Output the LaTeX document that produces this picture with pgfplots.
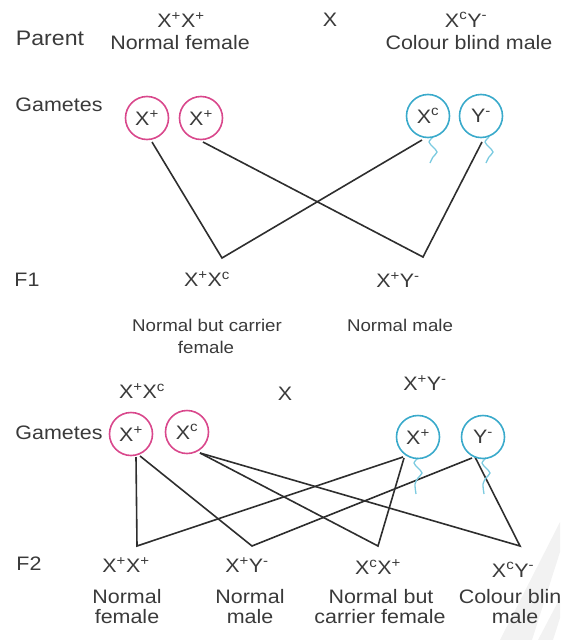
\documentclass[border=0pt]{standalone}
\usepackage{pgfplots}
\pgfplotsset{compat=1.18}
\usepackage{fontspec}
\setmainfont{Liberation Sans}[FakeStretch=1.1]
\definecolor{txt}{HTML}{3A3A3A}
\definecolor{pinkc}{HTML}{D9488C}
\definecolor{bluec}{HTML}{3AAACB}
\definecolor{bluel}{HTML}{7CCBE0}
\definecolor{linec}{HTML}{2E2E2E}
\newcommand\fa{\fontsize{19.5}{22}\selectfont}
\newcommand\fb{\fontsize{17}{20}\selectfont}
\newcommand\su[1]{\textsuperscript{#1}}
\tikzset{L/.style={text=txt, font=\fa, inner sep=0pt}, S/.style={text=txt, font=\fb, inner sep=0pt}}
\begin{document}
\begin{tikzpicture}
\begin{axis}[
  width=560pt, height=640pt, scale only axis,
  xmin=0, xmax=560, ymin=0, ymax=640, y dir=reverse,
  hide axis, clip=false,
]
% watermark bands
\addplot[fill=gray!10, draw=none] coordinates {(560,522) (560,552) (532,640) (500,640) (560,522)};
\addplot[fill=gray!10, draw=none] coordinates {(560,598) (560,618) (553,640) (538,640) (560,598)};
% F1 lines
\addplot[linec, line width=1.6pt] coordinates {(152,142) (222,258) (422,140)};
\addplot[linec, line width=1.6pt] coordinates {(203,142) (423,257) (482,142)};
% F2 lines
\addplot[linec, line width=1.6pt] coordinates {(136,457) (137,546) (403,457)};
\addplot[linec, line width=1.6pt] coordinates {(140,456) (252,546) (472,458)};
\addplot[linec, line width=1.6pt] coordinates {(200,453) (378,546) (404,458)};
\addplot[linec, line width=1.6pt] coordinates {(200,453) (520,546) (475,457)};
% sperm tails
\addplot[bluel, line width=1.3pt, smooth] coordinates {(433,137) (429,142) (433,147) (437,152) (433,157) (430,163)};
\addplot[bluel, line width=1.3pt, smooth] coordinates {(489,137) (485,142) (489,147) (493,152) (489,157) (486,163)};
\addplot[bluel, line width=1.3pt, smooth] coordinates {(418,458) (414,463) (418,468) (422,473) (418,478) (415,484) (416,494)};
\addplot[bluel, line width=1.3pt, smooth] coordinates {(486,458) (482,463) (486,468) (490,473) (486,478) (483,484) (484,494)};
% gamete circles
\addplot[only marks, mark=o, mark size=21.5pt, mark options={draw=pinkc, line width=1.6pt}]
  coordinates {(147,118) (201,118) (131,434) (187,432)};
\addplot[only marks, mark=o, mark size=21.5pt, mark options={draw=bluec, line width=1.6pt}]
  coordinates {(428,116) (481,116) (418,437) (483,437)};
% circle labels
\node[L] at (axis cs:147,118) {X\su{+}};
\node[L] at (axis cs:201,118) {X\su{+}};
\node[L] at (axis cs:428,116) {X\su{c}};
\node[L] at (axis cs:481,116) {Y\su{-}};
\node[L] at (axis cs:131,434) {X\su{+}};
\node[L] at (axis cs:187,432) {X\su{c}};
\node[L] at (axis cs:418,437) {X\su{+}};
\node[L] at (axis cs:483,437) {Y\su{-}};
% top parents
\node[L] at (axis cs:50,38) {\fontsize{21}{24}\selectfont Parent};
\node[L] at (axis cs:181,20) {X\su{+}X\su{+}};
\node[L] at (axis cs:180,43) {Normal female};
\node[L] at (axis cs:330,20) {X};
\node[L] at (axis cs:466,20) {X\su{c}Y\su{-}};
\node[L] at (axis cs:469,43) {Colour blind male};
\node[L] at (axis cs:59,105) {Gametes};
% F1
\node[L] at (axis cs:27,280) {F1};
\node[L] at (axis cs:207,279) {X\su{+}X\su{c}};
\node[L] at (axis cs:398,280) {X\su{+}Y\su{-}};
\node[S] at (axis cs:207,325) {Normal but carrier};
\node[S] at (axis cs:206,347) {female};
\node[S] at (axis cs:400,325) {Normal male};
% F1 cross
\node[L] at (axis cs:142,391) {X\su{+}X\su{c}};
\node[L] at (axis cs:285,394) {X};
\node[L] at (axis cs:425,383) {X\su{+}Y\su{-}};
\node[L] at (axis cs:59,433) {Gametes};
% F2
\node[L] at (axis cs:29,564) {F2};
\node[L] at (axis cs:126,565) {X\su{+}X\su{+}};
\node[L] at (axis cs:127,597) {Normal};
\node[L] at (axis cs:127,617) {female};
\node[L] at (axis cs:247,565) {X\su{+}Y\su{-}};
\node[L] at (axis cs:250,597) {Normal};
\node[L] at (axis cs:250,617) {male};
\node[L] at (axis cs:378,567) {X\su{c}X\su{+}};
\node[L] at (axis cs:381,597) {Normal but};
\node[L] at (axis cs:380,617) {carrier female};
\node[L] at (axis cs:513,570) {X\su{c}Y\su{-}};
\node[L] at (axis cs:516,597) {Colour blind};
\node[L] at (axis cs:515,617) {male};
\end{axis}
\pgfresetboundingbox
\useasboundingbox (current axis.south west) rectangle (current axis.north east);
\end{tikzpicture}
\end{document}
